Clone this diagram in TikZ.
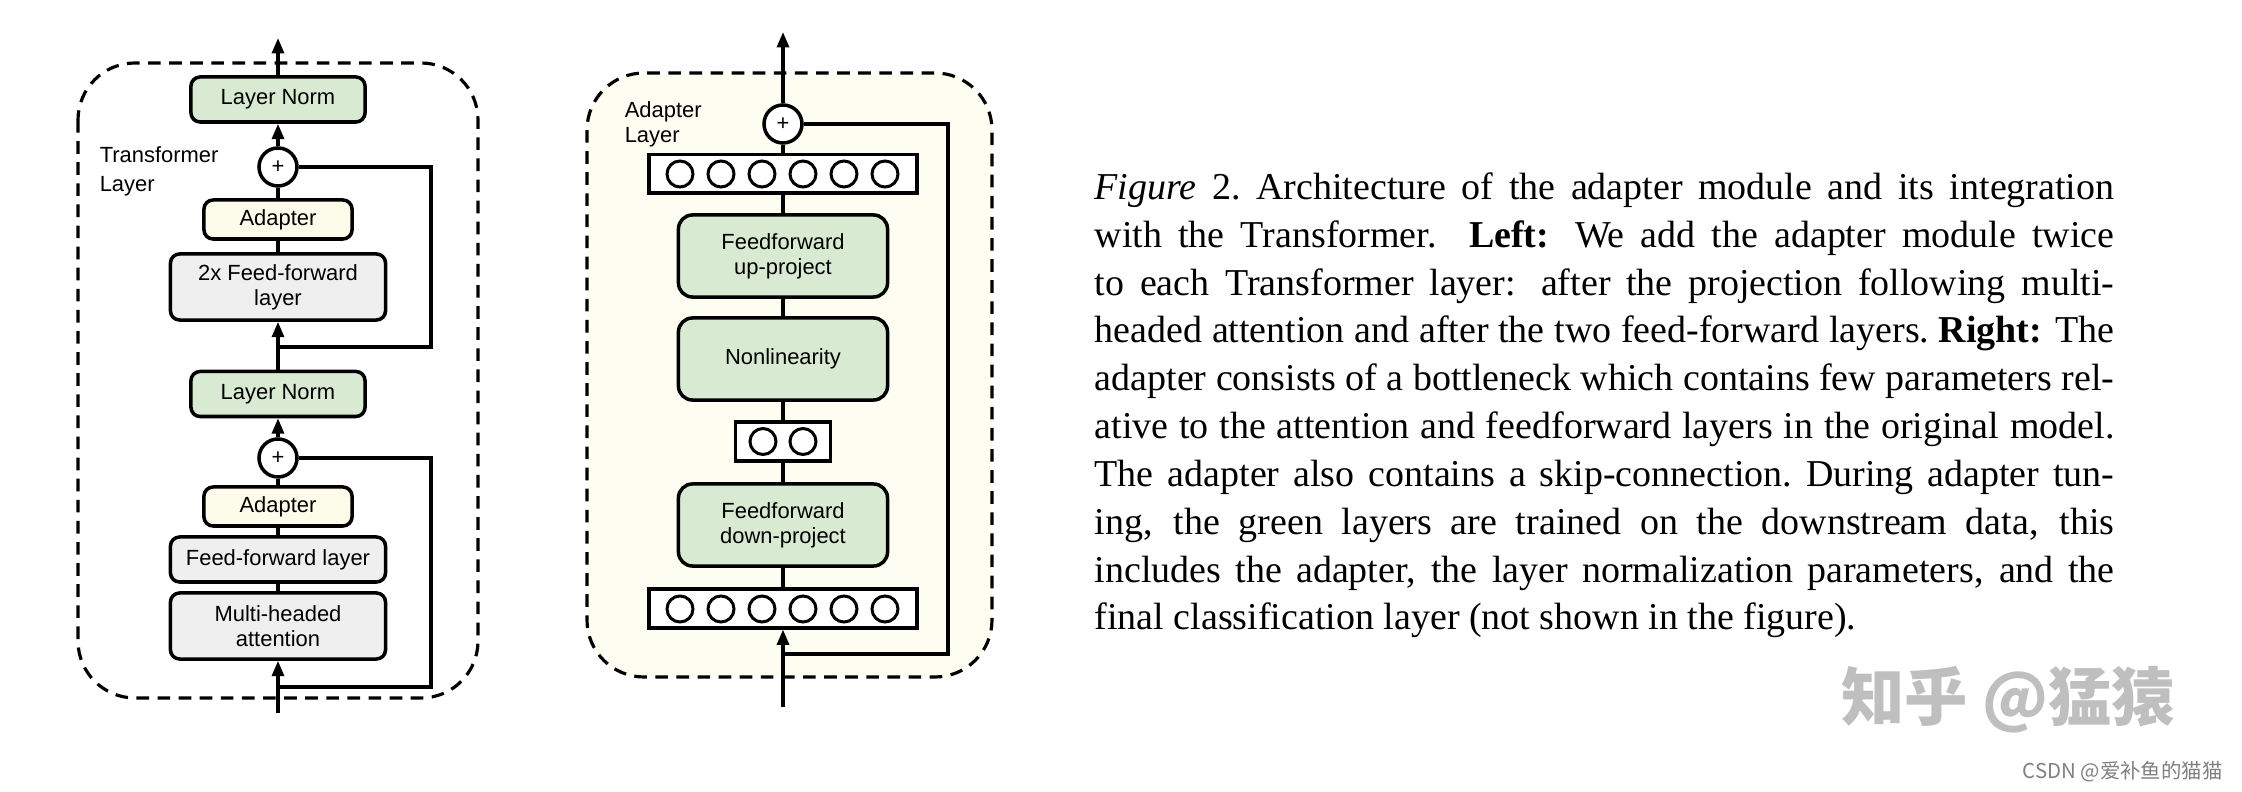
\documentclass[tikz,border=0pt]{standalone}
\usepackage{fontspec}
\setmainfont{Liberation Serif}
\newfontfamily\arialfont{Liberation Sans}
\newfontfamily\cjkfont{Noto Sans CJK SC}
\usetikzlibrary{arrows.meta}
\definecolor{normgreen}{HTML}{D9EAD3}
\definecolor{ffgray}{HTML}{EFEFEF}
\definecolor{adaptyellow}{HTML}{FDFBEA}
\definecolor{layeryellow}{HTML}{FEFDF2}
\begin{document}
\begin{tikzpicture}[x=0.01cm, y=-0.01cm, line width=1pt,
    every node/.style={font=\arialfont\fontsize{6.24}{7.2}\selectfont},
    block/.style={draw, rounded corners=2.6pt, align=center, inner sep=0pt},
    normbox/.style={block, fill=normgreen, minimum width=1.74cm, minimum height=0.45cm},
    adaptbox/.style={block, fill=adaptyellow, minimum width=1.48cm, minimum height=0.39cm},
    ffbox/.style={block, fill=ffgray, minimum width=2.15cm},
    projbox/.style={block, fill=normgreen, rounded corners=4pt, minimum width=2.09cm, minimum height=0.82cm},
    rowbox/.style={draw, fill=white, inner sep=0pt, minimum height=0.385cm},
    neuron/.style={draw, circle, fill=white, line width=0.85pt, inner sep=0pt, minimum size=0.26cm},
    plus/.style={draw, circle, fill=white, inner sep=0pt, minimum size=0.38cm},
    layerbox/.style={line width=0.9pt, dash pattern=on 3.6pt off 2.4pt, rounded corners=0.57cm},
    arr/.style={-{Triangle[length=4.4pt,width=3.4pt]}}]
\fill[white] (0,0) rectangle (2242,792);
\useasboundingbox (0,0) rectangle (2242,792);

% left: transformer layer
\draw[layerbox] (78,63) rectangle (478,698);
\node[anchor=north west, inner sep=0pt, align=left,
      font=\arialfont\fontsize{6.24}{8.2}\selectfont] (tlabel) at (98,145) {Transformer\\Layer};
\node[normbox] (lnTop) at (278,99.5) {Layer Norm};
\node[plus] (plusTop) at (278,167) {+};
\node[adaptbox] (adaTop) at (278,219.5) {Adapter};
\node[ffbox, minimum height=0.66cm] (ffTop) at (278,287) {2x Feed-forward\\layer};
\node[normbox] (lnBot) at (278,394) {Layer Norm};
\node[plus] (plusBot) at (278,458) {+};
\node[adaptbox] (adaBot) at (278,506.5) {Adapter};
\node[ffbox, minimum height=0.45cm] (ffBot) at (278,559.5) {Feed-forward layer};
\node[ffbox, minimum height=0.66cm] (mha) at (278,626) {Multi-headed\\attention};
\coordinate (lin) at (278,713);
\coordinate (lout) at (278,38);
\coordinate (lsplitA) at (278,687);
\coordinate (lturnA) at (431,687);
\coordinate (lsplitB) at (278,347);
\coordinate (lturnB) at (431,347);
\draw[arr] (lin) -- (mha);
\draw (mha) -- (ffBot);
\draw (ffBot) -- (adaBot);
\draw (adaBot) -- (plusBot);
\draw[arr] (plusBot) -- (lnBot);
\draw[arr] (lnBot) -- (ffTop);
\draw (ffTop) -- (adaTop);
\draw (adaTop) -- (plusTop);
\draw[arr] (plusTop) -- (lnTop);
\draw[arr] (lnTop) -- (lout);
\draw (lsplitA) -- (lturnA) |- (plusBot.east);
\draw (lsplitB) -- (lturnB) |- (plusTop.east);

% right: adapter layer
\draw[layerbox, fill=layeryellow] (587,73) rectangle (992,677);
\node[anchor=north west, inner sep=0pt, align=left,
      font=\arialfont\fontsize{6.24}{7.1}\selectfont] (alabel) at (623,100) {Adapter\\Layer};
\node[plus] (rplus) at (783,124) {+};
\node[rowbox, minimum width=2.68cm] (rowTop) at (783,174) {};
\node[projbox] (ffUp) at (783,256) {Feedforward\\up-project};
\node[projbox] (nonlin) at (783,359) {Nonlinearity};
\node[rowbox, minimum width=0.95cm] (rowMid) at (783,441.5) {};
\node[projbox] (ffDown) at (783,525) {Feedforward\\down-project};
\node[rowbox, minimum width=2.68cm] (rowBot) at (783,608.5) {};
\foreach \i in {0,...,5} {
    \node[neuron] (top\i) at ({680+41*\i},174) {};
    \node[neuron] (bot\i) at ({680+41*\i},609) {};
}
\foreach \i in {0,1} {
    \node[neuron] (mid\i) at ({763+40*\i},441.5) {};
}
\coordinate (rin) at (783,707);
\coordinate (rout) at (783,32);
\coordinate (rsplit) at (783,654);
\coordinate (rturn) at (948,654);
\draw[arr] (rin) -- (rowBot);
\draw (rowBot) -- (ffDown);
\draw (ffDown) -- (rowMid);
\draw (rowMid) -- (nonlin);
\draw (nonlin) -- (ffUp);
\draw (ffUp) -- (rowTop);
\draw (rowTop) -- (rplus);
\draw[arr] (rplus) -- (rout);
\draw (rsplit) -- (rturn) |- (rplus.east);

% caption
\node[anchor=north west, inner sep=0pt, text width=10.19cm, align=justify,
      font=\rmfamily\fontsize{10.8}{13.6}\selectfont] (caption) at (1093,171)
  {\textit{Figure} 2.\ Architecture of the adapter module and its integration\linebreak
   with the Transformer.  \textbf{Left:} We add the adapter module twice\linebreak
   to each Transformer layer: after the projection following multi-\linebreak
   headed attention and after the two feed-forward layers.\ \textbf{Right:} The\linebreak
   adapter consists of a bottleneck which contains few parameters rel-\linebreak
   ative to the attention and feedforward layers in the original model.\linebreak
   The adapter also contains a skip-connection.\ During adapter tun-\linebreak
   ing, the green layers are trained on the downstream data, this\linebreak
   includes the adapter, the layer normalization parameters, and the\linebreak
   final classification layer (not shown in the figure).};

% watermarks
\node[font=\cjkfont\bfseries\fontsize{18}{18}\selectfont, text=black!25] (zhihu) at (2008,700) {知乎 @猛猿};
\node[anchor=east, font=\cjkfont\fontsize{5.8}{6}\selectfont, text=black!50] (csdn) at (2236,772) {CSDN @爱补鱼的猫猫};
\end{tikzpicture}
\end{document}
